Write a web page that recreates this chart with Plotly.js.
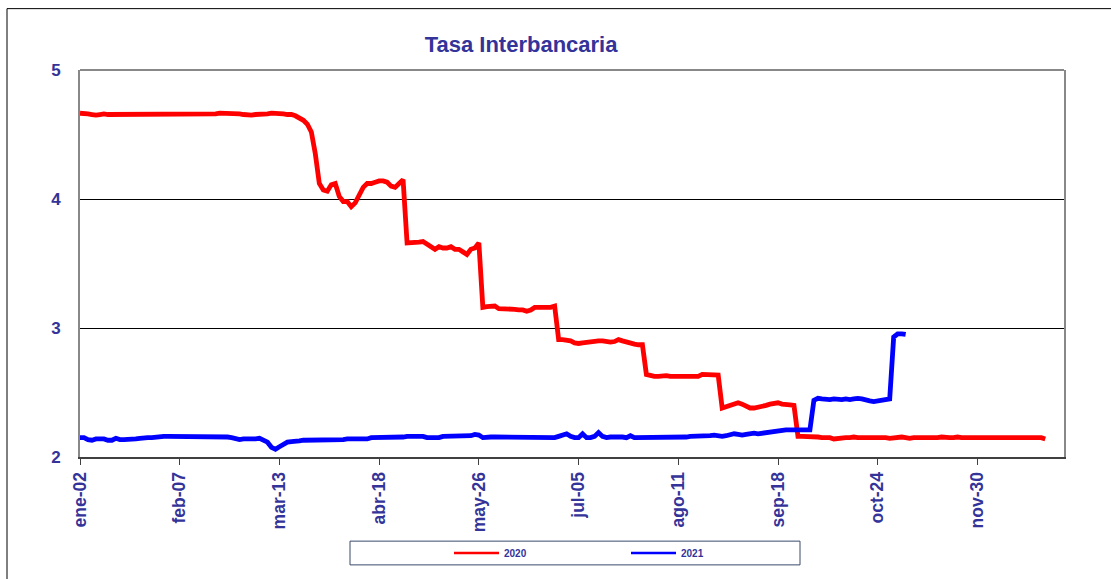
<!DOCTYPE html>
<html>
<head>
<meta charset="utf-8">
<script src="https://cdn.plot.ly/plotly-3.0.1.min.js"></script>
<style>html,body{margin:0;padding:0;background:#fff;}#chart{width:1111px;height:579px;}</style>
</head>
<body>
<div id="chart"></div>
<script>
// Tick labels (every 25 observations)
var tickLabels = ["ene-02","feb-07","mar-13","abr-18","may-26","jul-05","ago-11","sep-18","oct-24","nov-30"];
var tickPositions = [0,25,50,75,100,125,150,175,200,225];

// Serie 2020 (one value per observation)
var serie2020 = [
 4.665,4.665,4.66,4.655,4.65,4.655,4.66,4.655,4.655,4.655,
 4.66,4.655,4.655,4.655,4.655,4.66,4.66,4.66,4.655,4.655,
 4.66,4.66,4.66,4.66,4.655,4.66,4.66,4.655,4.655,4.655,
 4.655,4.66,4.66,4.66,4.66,4.665,4.665,4.66,4.66,4.665,
 4.66,4.655,4.65,4.65,4.655,4.655,4.66,4.66,4.665,4.665,
 4.66,4.66,4.655,4.655,4.645,
 4.63,4.61,4.58,4.52,4.35,4.12,4.07,4.06,4.11,4.12,
 4.02,3.98,3.98,3.94,3.97,4.03,4.09,4.12,4.12,4.13,
 4.14,4.14,4.13,4.10,4.09,4.12,4.15,
 3.66,3.66,3.66,3.665,3.67,3.65,3.62,3.61,3.63,3.62,
 3.62,3.63,3.61,3.61,3.59,3.57,3.61,3.62,3.66,
 3.16,3.165,3.17,3.17,3.15,3.15,3.15,3.15,3.145,3.14,
 3.14,3.13,3.14,3.16,3.16,3.16,3.155,3.16,3.17,
 2.91,2.91,2.905,2.90,2.885,2.88,2.885,2.89,2.895,2.895,
 2.90,2.90,2.895,2.89,2.895,2.91,2.90,2.89,2.88,2.875,
 2.87,2.87,2.64,
 2.63,2.625,2.625,2.63,2.63,2.625,2.625,2.625,2.62,2.62,
 2.62,2.62,2.625,2.64,2.64,2.635,2.635,2.635,
 2.38,2.39,2.40,2.41,2.42,2.41,2.39,2.38,2.38,2.385,
 2.39,2.40,2.41,2.415,2.42,2.41,2.41,2.405,2.40,
 2.16,2.16,2.16,2.155,2.155,2.155,2.15,2.15,2.15,2.14,2.145,2.15,
 2.15,2.15,2.155,2.15,2.15,2.15,2.15,2.155,2.15,2.15,
 2.15,2.145,2.15,2.15,2.155,2.15,2.145,2.15,2.15,2.15,
 2.15,2.15,2.145,2.15,2.155,2.15,2.15,2.15,2.155,2.15,
 2.15,2.155,2.15,2.155,2.155,2.155,2.155,2.155,2.155,2.155,
 2.155,2.155,2.155,2.15,2.155,2.155,2.155,2.155,2.15,2.15,
 2.14
];

// Serie 2021
var serie2021 = [
 2.15,2.15,2.135,2.13,2.14,2.14,2.14,2.13,2.13,2.145,
 2.135,2.135,2.135,2.14,2.14,2.145,2.15,2.15,2.15,2.155,
 2.155,2.16,2.16,2.16,2.16,2.16,2.16,2.16,2.16,2.16,
 2.16,2.16,2.16,2.16,2.16,2.16,
 2.16,2.155,2.15,2.14,2.135,2.14,2.14,2.135,2.14,2.145,
 2.13,2.115,2.075,2.06,2.08,2.10,2.115,2.12,2.12,2.125,
 2.13,2.13,2.13,2.135,2.13,
 2.135,2.135,2.135,2.135,2.135,2.135,
 2.14,2.14,2.14,2.14,2.14,2.14,
 2.15,2.15,2.15,2.15,2.15,2.15,
 2.155,2.155,2.155,
 2.16,2.16,2.16,2.16,2.16,
 2.15,2.15,2.15,2.15,
 2.16,2.16,2.16,2.16,2.16,2.16,
 2.165,2.165,2.175,2.17,
 2.15,2.155,2.155,2.155,2.155,2.155,2.155,2.155,2.155,2.155,
 2.15,2.15,2.15,2.15,2.15,2.15,2.15,2.15,2.15,
 2.16,2.175,2.18,2.16,2.15,2.15,2.18,2.15,2.15,2.16,
 2.19,2.16,2.15,2.155,2.155,2.16,2.155,2.15,2.165,2.15,
 2.15,2.15,2.15,2.15,2.15,2.15,2.15,2.15,
 2.155,2.155,2.155,2.155,2.155,
 2.16,2.16,2.16,2.16,2.16,
 2.165,2.17,2.165,2.16,2.165,2.17,2.18,2.175,2.17,2.175,
 2.18,2.185,2.18,2.185,2.19,2.195,2.20,2.205,2.21,2.21,
 2.21,2.21,2.205,2.205,2.21,2.21,
 2.44,2.455,2.45,2.445,2.445,2.45,2.445,2.445,2.45,2.445,
 2.45,2.455,2.45,2.44,2.435,2.43,2.435,2.44,2.445,2.45,
 2.93,2.955,2.955,2.95
];

var seriesNames = ["2020","2021"];
var seriesColors = ["#ff0000","#0000ff"];

function idx(arr){ return arr.map(function(_, i){ return i; }); }

var navy = "#333399";
var fontFam = "Liberation Sans, Arial, sans-serif";

var traces = [
  {x: idx(serie2020), y: serie2020, type: "scatter", mode: "lines", name: seriesNames[0],
   line: {color: seriesColors[0], width: 4.8}, showlegend: false, hoverinfo: "y"},
  {x: idx(serie2021), y: serie2021, type: "scatter", mode: "lines", name: seriesNames[1],
   line: {color: seriesColors[1], width: 4.8}, showlegend: false, hoverinfo: "y"},
  {x: [null], y: [null], type: "scatter", mode: "lines", name: seriesNames[0],
   line: {color: seriesColors[0], width: 2.5}, showlegend: true},
  {x: [null], y: [null], type: "scatter", mode: "lines", name: seriesNames[1],
   line: {color: seriesColors[1], width: 2.5}, showlegend: true}
];

var layout = {
  width: 1111, height: 579,
  margin: {l: 80, r: 47, t: 70, b: 118, pad: 0},
  paper_bgcolor: "#ffffff", plot_bgcolor: "#ffffff",
  font: {family: fontFam, color: navy},
  title: {text: "<b>Tasa Interbancaria</b>", x: 0.469, xref: "container", xanchor: "center",
          y: 1 - 44/579, yref: "container", yanchor: "middle",
          font: {family: fontFam, size: 22, color: navy}},
  xaxis: {
    range: [0, 246.7], tickmode: "array", tickvals: tickPositions, ticktext: tickLabels,
    tickangle: -90, ticks: "outside", ticklen: 6, tickwidth: 1, tickcolor: "#404040",
    tickfont: {family: fontFam, size: 17.5, color: navy, weight: "bold"},
    showline: true, linecolor: "#404040", linewidth: 2, mirror: false,
    showgrid: false, zeroline: false, fixedrange: true
  },
  yaxis: {
    range: [2, 5], tickmode: "array", tickvals: [2,3,4,5], ticktext: ["2","3","4","5"],
    ticks: "", ticklabelstandoff: 14,
    tickfont: {family: fontFam, size: 17, color: navy, weight: "bold"},
    showline: true, linecolor: "#888888", linewidth: 2, mirror: true,
    showgrid: true, gridcolor: "#000000", gridwidth: 1, zeroline: false, fixedrange: true
  },
  legend: {
    orientation: "h", x: (449-80)/984, xanchor: "left", y: (461-558)/391, yanchor: "middle",
    font: {family: fontFam, size: 10, color: navy, weight: "bold"},
    bgcolor: "rgba(0,0,0,0)", borderwidth: 0, itemwidth: 45,
    entrywidth: 117, entrywidthmode: "pixels"
  },
  shapes: [
    {type: "line", xref: "paper", yref: "paper", x0: 0, x1: 1, y0: 1, y1: 1,
     line: {color: "#888888", width: 2}, layer: "above"},
    {type: "rect", xref: "paper", yref: "paper", x0: (7-80)/984, x1: (1125-80)/984,
     y0: (461-595)/391, y1: (461-8)/391, line: {color: "#000000", width: 1}, layer: "below"},
    {type: "rect", xref: "paper", yref: "paper", x0: (350-80)/984, x1: (800-80)/984,
     y0: (461-570)/391, y1: (461-546)/391, line: {color: "#3a4a6b", width: 1}, layer: "below"}
  ],
  showlegend: true
};

Plotly.newPlot("chart", traces, layout, {staticPlot: true, displayModeBar: false});
</script>
</body>
</html>
